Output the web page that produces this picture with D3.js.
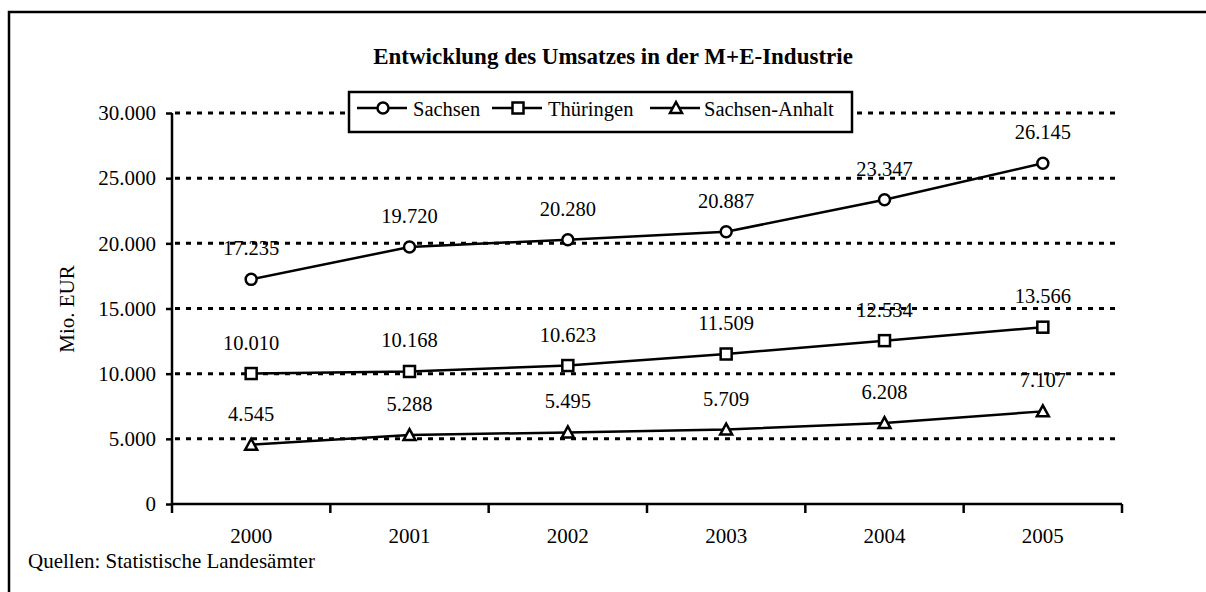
<!DOCTYPE html>
<html>
<head>
<meta charset="utf-8">
<script src="https://cdn.jsdelivr.net/npm/d3@7"></script>
<style>
  body { margin: 0; background: #fff; }
  svg text { font-family: "Liberation Serif", "Times New Roman", serif; fill: #000; }
</style>
</head>
<body>
<svg id="chart" width="1206" height="592"></svg>
<script>
// Daten (Mio. EUR)
var years = ["2000", "2001", "2002", "2003", "2004", "2005"];
var sachsen = [17235, 19720, 20280, 20887, 23347, 26145];
var thueringen = [10010, 10168, 10623, 11509, 12534, 13566];
var sachsenAnhalt = [4545, 5288, 5495, 5709, 6208, 7107];
var yTicks = [0, 5000, 10000, 15000, 20000, 25000, 30000];
var seriesNames = ["Sachsen", "Thüringen", "Sachsen-Anhalt"];
var seriesSymbols = ["circle", "square", "triangle"];
// label mit weissem hintergrund (im original so)
var opaqueLabels = [["Sachsen-Anhalt", "2004"]];

var series = [
  { name: seriesNames[0], values: sachsen, sym: seriesSymbols[0] },
  { name: seriesNames[1], values: thueringen, sym: seriesSymbols[1] },
  { name: seriesNames[2], values: sachsenAnhalt, sym: seriesSymbols[2] }
];

var svg = d3.select("#chart");
var fmt = function (v) { return d3.format(",")(v).replace(/,/g, "."); };

var plotLeft = 172, plotRight = 1122, plotTop = 113, plotBottom = 504;

var x = d3.scaleBand().domain(years).range([plotLeft, plotRight]);
var y = d3.scaleLinear().domain([0, 30000]).range([plotBottom, plotTop]);

// rahmen (nur links + oben sichtbar)
svg.append("path")
  .attr("d", "M9,592 L9,12 L1206,12")
  .attr("fill", "none").attr("stroke", "#000").attr("stroke-width", 2.5);

// titel
svg.append("text")
  .attr("x", 613).attr("y", 64)
  .attr("text-anchor", "middle")
  .attr("font-size", "23px").attr("font-weight", "bold")
  .text("Entwicklung des Umsatzes in der M+E-Industrie");

// gitterlinien
svg.append("g").selectAll("line")
  .data(yTicks.filter(function (d) { return d > 0; }))
  .join("line")
  .attr("x1", plotLeft + 3).attr("x2", 1117)
  .attr("y1", function (d) { return y(d); })
  .attr("y2", function (d) { return y(d); })
  .attr("stroke", "#000").attr("stroke-width", 3)
  .attr("stroke-dasharray", "5,6");

// y-achse
var yAxis = svg.append("g")
  .attr("transform", "translate(" + plotLeft + ",0)")
  .call(d3.axisLeft(y).tickValues(yTicks).tickSize(6).tickPadding(10).tickFormat(fmt));
yAxis.select(".domain").attr("d", "M0," + plotTop + "V" + plotBottom).attr("stroke-width", 2.5);
yAxis.selectAll(".tick line").attr("stroke-width", 2.5);
yAxis.selectAll(".tick text").attr("font-size", "21px").attr("font-family", "Liberation Serif");

// x-achse: ticks an den kategoriegrenzen
var xg = svg.append("g");
xg.append("line")
  .attr("x1", plotLeft).attr("x2", plotRight)
  .attr("y1", plotBottom).attr("y2", plotBottom)
  .attr("stroke", "#000").attr("stroke-width", 2.5);
var edges = years.map(function (d) { return x(d); }).concat([plotRight]);
xg.selectAll("line.tk").data(edges).join("line")
  .attr("class", "tk")
  .attr("x1", function (d) { return d; }).attr("x2", function (d) { return d; })
  .attr("y1", plotBottom).attr("y2", plotBottom + 9)
  .attr("stroke", "#000").attr("stroke-width", 2.5);
xg.selectAll("text").data(years).join("text")
  .attr("x", function (d) { return x(d) + x.bandwidth() / 2; })
  .attr("y", 543)
  .attr("text-anchor", "middle")
  .attr("font-size", "21px")
  .text(function (d) { return d; });

// y-titel
svg.append("text")
  .attr("transform", "translate(74,309) rotate(-90)")
  .attr("text-anchor", "middle")
  .attr("font-size", "21px")
  .text("Mio. EUR");

// quelle
svg.append("text")
  .attr("x", 28).attr("y", 568)
  .attr("font-size", "21px")
  .text("Quellen: Statistische Landesämter");

function cx(i) { return x(years[i]) + x.bandwidth() / 2; }

function drawSymbol(g, sym, px, py) {
  if (sym == "circle") {
    g.append("circle").attr("cx", px).attr("cy", py).attr("r", 5.5)
      .attr("fill", "#fff").attr("stroke", "#000").attr("stroke-width", 2.5);
  } else if (sym == "square") {
    g.append("rect").attr("x", px - 5.5).attr("y", py - 5.5).attr("width", 11).attr("height", 11)
      .attr("fill", "#fff").attr("stroke", "#000").attr("stroke-width", 2.5);
  } else {
    g.append("path").attr("d", "M" + px + "," + (py - 6) + " L" + (px + 6) + "," + (py + 5) + " L" + (px - 6) + "," + (py + 5) + " Z")
      .attr("fill", "#fff").attr("stroke", "#000").attr("stroke-width", 2.5);
  }
}

var line = d3.line()
  .x(function (d, i) { return cx(i); })
  .y(function (d) { return y(d); });

// linien + marker + beschriftung
series.forEach(function (s) {
  var g = svg.append("g");
  g.append("path").attr("d", line(s.values))
    .attr("fill", "none").attr("stroke", "#000").attr("stroke-width", 2.5);
  s.values.forEach(function (v, i) {
    drawSymbol(g, s.sym, cx(i), y(v));
  });
  s.values.forEach(function (v, i) {
    var opaque = opaqueLabels.some(function (o) { return o[0] == s.name && o[1] == years[i]; });
    if (opaque) {
      g.append("rect").attr("x", cx(i) - 32).attr("y", y(v) - 46).attr("width", 60).attr("height", 27)
        .attr("fill", "#fff");
    }
    g.append("text")
      .attr("x", cx(i)).attr("y", y(v) - 24)
      .attr("text-anchor", "middle")
      .attr("font-size", "20.5px")
      .text(fmt(v));
  });
});

// legende
var lg = svg.append("g");
lg.append("rect").attr("x", 349).attr("y", 92).attr("width", 503).attr("height", 40)
  .attr("fill", "#fff").attr("stroke", "#000").attr("stroke-width", 2.5);
var legX = [357, 492, 650];
var legTextX = [413, 548, 704];
series.forEach(function (s, i) {
  var lx = legX[i];
  lg.append("line").attr("x1", lx).attr("x2", lx + 50).attr("y1", 108).attr("y2", 108)
    .attr("stroke", "#000").attr("stroke-width", 2.5);
  drawSymbol(lg, s.sym, lx + 26, 108);
  lg.append("text").attr("x", legTextX[i]).attr("y", 116)
    .attr("font-size", "20.5px").text(s.name);
});
</script>
</body>
</html>
